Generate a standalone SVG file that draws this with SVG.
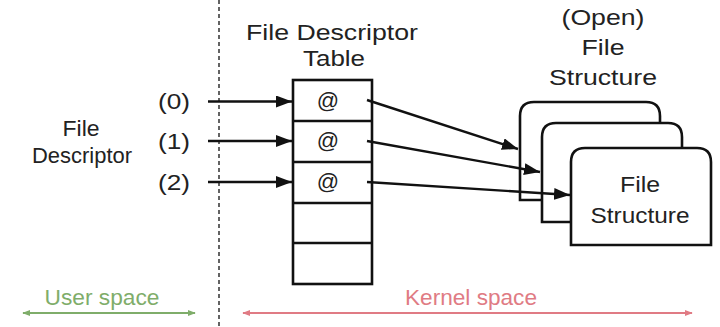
<svg xmlns="http://www.w3.org/2000/svg" width="720" height="327" viewBox="0 0 720 327">
<style>
text{font-family:"Liberation Sans",Arial,sans-serif;fill:#222;font-size:22px;text-anchor:middle}
.box{fill:#fff;stroke:#111;stroke-width:2.6}
.row{stroke:#111;stroke-width:2.6}
.con{stroke:#111;stroke-width:2.4;fill:none;marker-end:url(#ah)}
.green{fill:#7fad6a}
.red{fill:#e07b84}
</style>
<defs>
<marker id="ah" viewBox="0 0 16 12" refX="16" refY="6" markerWidth="16" markerHeight="12" orient="auto" markerUnits="userSpaceOnUse">
<path d="M0,0 L16,6 L0,12 z" fill="#111"/>
</marker>
<marker id="ag" viewBox="0 0 10 10" refX="9" refY="5" markerWidth="8" markerHeight="8" orient="auto-start-reverse" markerUnits="userSpaceOnUse">
<path d="M0,1 L10,5 L0,9 z" fill="#7fad6a"/>
</marker>
<marker id="ar" viewBox="0 0 10 10" refX="9" refY="5" markerWidth="8" markerHeight="8" orient="auto-start-reverse" markerUnits="userSpaceOnUse">
<path d="M0,1 L10,5 L0,9 z" fill="#e07b84"/>
</marker>
</defs>

<line x1="219" y1="0" x2="219" y2="327" stroke="#222" stroke-width="1.4" stroke-dasharray="4,3"/>

<g id="user-label">
<text x="81" y="136" font-size="20" textLength="37" lengthAdjust="spacingAndGlyphs">File</text>
<text x="82" y="163" font-size="21" textLength="100" lengthAdjust="spacingAndGlyphs">Descriptor</text>
<text x="174" y="109" font-size="25" textLength="32" lengthAdjust="spacingAndGlyphs">(0)</text>
<text x="174" y="149" font-size="25" textLength="32" lengthAdjust="spacingAndGlyphs">(1)</text>
<text x="174" y="190" font-size="25" textLength="32" lengthAdjust="spacingAndGlyphs">(2)</text>
</g>

<g id="fd-table">
<text x="332" y="40" textLength="172" lengthAdjust="spacingAndGlyphs">File Descriptor</text>
<text x="334" y="66" textLength="62" lengthAdjust="spacingAndGlyphs">Table</text>
<rect class="box" x="293" y="80" width="79" height="204"/>
<line class="row" x1="293" y1="121" x2="372" y2="121"/>
<line class="row" x1="293" y1="162" x2="372" y2="162"/>
<line class="row" x1="293" y1="203" x2="372" y2="203"/>
<line class="row" x1="293" y1="243" x2="372" y2="243"/>
<text x="328" y="108" font-size="21">@</text>
<text x="328" y="148" font-size="21">@</text>
<text x="328" y="189" font-size="21">@</text>
</g>

<g id="file-structures">
<text x="603" y="25" textLength="83" lengthAdjust="spacingAndGlyphs">(Open)</text>
<text x="603" y="55" textLength="43" lengthAdjust="spacingAndGlyphs">File</text>
<text x="603" y="85" textLength="108" lengthAdjust="spacingAndGlyphs">Structure</text>
<path class="box" d="M520,200 L520,116 Q520,102 534,102 L646,102 Q660,102 660,116 L660,200 Z"/>
<path class="box" d="M542,222 L542,137 Q542,123 556,123 L668,123 Q682,123 682,137 L682,222 Z"/>
<path class="box" d="M571,245 L571,162 Q571,148 585,148 L697,148 Q711,148 711,162 L711,245 Z"/>
<text x="640" y="192" textLength="40" lengthAdjust="spacingAndGlyphs">File</text>
<text x="640" y="223" textLength="99" lengthAdjust="spacingAndGlyphs">Structure</text>
</g>

<g id="connectors">
<line class="con" x1="208" y1="101.5" x2="292" y2="101.5"/>
<line class="con" x1="208" y1="141" x2="292" y2="141"/>
<line class="con" x1="208" y1="182" x2="292" y2="182"/>
<line class="con" x1="367" y1="100" x2="518" y2="149"/>
<line class="con" x1="367" y1="141" x2="540" y2="172"/>
<line class="con" x1="367" y1="182" x2="570" y2="195"/>
</g>

<g id="spaces">
<text class="green" x="102" y="305" textLength="115" lengthAdjust="spacingAndGlyphs">User space</text>
<line x1="23" y1="313" x2="195" y2="313" stroke="#7fad6a" stroke-width="1.8" marker-start="url(#ag)" marker-end="url(#ag)"/>
<text class="red" x="471" y="305" textLength="132" lengthAdjust="spacingAndGlyphs">Kernel space</text>
<line x1="243" y1="313" x2="692" y2="313" stroke="#e07b84" stroke-width="1.8" marker-start="url(#ar)" marker-end="url(#ar)"/>
</g>
</svg>
